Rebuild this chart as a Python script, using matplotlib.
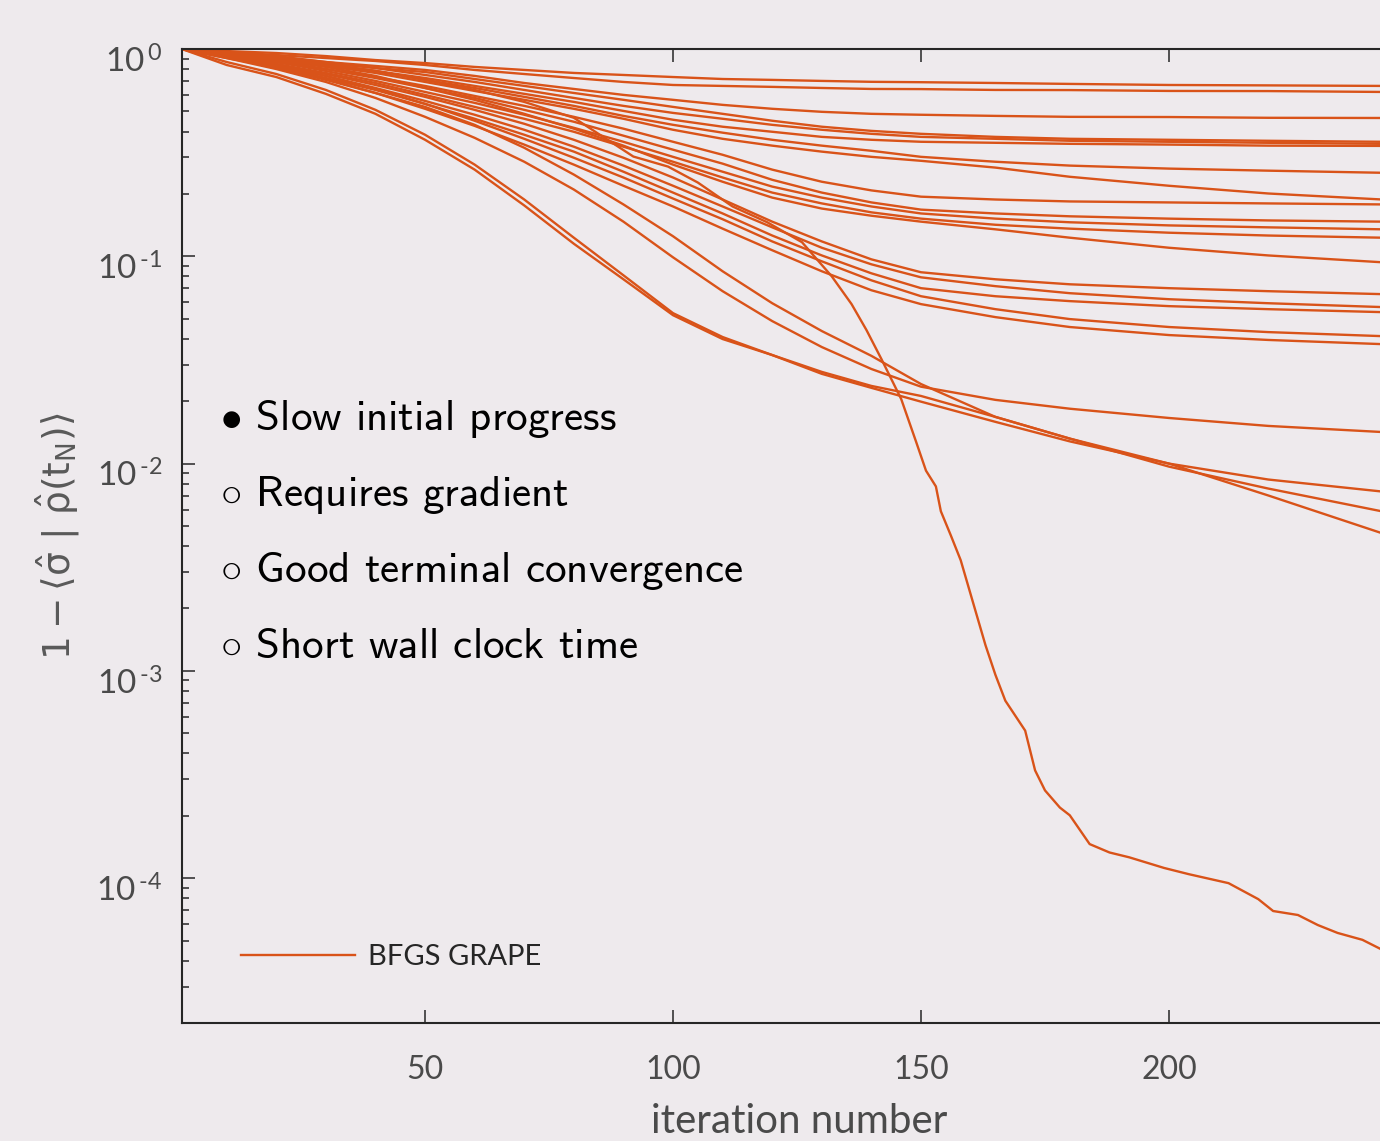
import matplotlib
matplotlib.use("Agg")
import matplotlib.pyplot as plt
from matplotlib.ticker import FuncFormatter
from matplotlib.transforms import ScaledTranslation
import math

# ---------------- data ----------------
iterations = [1, 10, 20, 30, 40, 50, 60, 70, 80, 90, 100, 110, 120, 130, 140,
              150, 165, 180, 200, 220, 243]

run_01 = [1.0, 0.978, 0.957, 0.925, 0.885, 0.856, 0.820, 0.793, 0.767, 0.750, 0.733,
          0.717, 0.710, 0.702, 0.695, 0.692, 0.686, 0.679, 0.671, 0.668, 0.664]
run_02 = [1.0, 0.967, 0.936, 0.905, 0.876, 0.838, 0.793, 0.758, 0.725, 0.694, 0.671,
          0.664, 0.657, 0.649, 0.642, 0.641, 0.635, 0.634, 0.628, 0.627, 0.621]
run_03 = [1.0, 0.957, 0.915, 0.866, 0.829, 0.793, 0.742, 0.686, 0.642, 0.601, 0.569,
          0.538, 0.515, 0.498, 0.487, 0.482, 0.476, 0.471, 0.470, 0.466, 0.465]
run_04 = [1.0, 0.957, 0.905, 0.856, 0.810, 0.775, 0.717, 0.664, 0.614, 0.569, 0.526,
          0.487, 0.451, 0.422, 0.403, 0.390, 0.377, 0.369, 0.365, 0.361, 0.357]
run_05 = [1.0, 0.967, 0.925, 0.866, 0.810, 0.750, 0.694, 0.635, 0.581, 0.532, 0.492,
          0.461, 0.431, 0.408, 0.390, 0.377, 0.369, 0.361, 0.357, 0.353, 0.349]
run_06 = [1.0, 0.946, 0.895, 0.838, 0.784, 0.725, 0.664, 0.608, 0.556, 0.503, 0.456,
          0.422, 0.399, 0.377, 0.365, 0.357, 0.353, 0.349, 0.346, 0.342, 0.341]
run_07 = [1.0, 0.957, 0.905, 0.847, 0.784, 0.710, 0.649, 0.588, 0.532, 0.476, 0.431,
          0.395, 0.365, 0.342, 0.323, 0.302, 0.286, 0.274, 0.265, 0.259, 0.253]
run_08 = [1.0, 0.946, 0.885, 0.829, 0.767, 0.694, 0.628, 0.569, 0.515, 0.461, 0.408,
          0.369, 0.342, 0.320, 0.302, 0.289, 0.268, 0.242, 0.219, 0.201, 0.188]
run_09 = [1.0, 0.936, 0.866, 0.801, 0.733, 0.664, 0.594, 0.532, 0.471, 0.413, 0.357,
          0.309, 0.262, 0.229, 0.208, 0.194, 0.188, 0.184, 0.182, 0.180, 0.178]
run_10 = [1.0, 0.946, 0.876, 0.801, 0.725, 0.649, 0.581, 0.509, 0.446, 0.382, 0.327,
          0.280, 0.234, 0.203, 0.182, 0.168, 0.161, 0.156, 0.152, 0.149, 0.147]
run_11 = [1.0, 0.936, 0.866, 0.784, 0.702, 0.621, 0.550, 0.482, 0.417, 0.357, 0.302,
          0.256, 0.217, 0.192, 0.174, 0.161, 0.152, 0.146, 0.141, 0.138, 0.135]
run_12 = [1.0, 0.925, 0.847, 0.767, 0.686, 0.601, 0.526, 0.461, 0.399, 0.338, 0.286,
          0.240, 0.203, 0.180, 0.163, 0.152, 0.142, 0.136, 0.130, 0.126, 0.123]
run_13 = [1.0, 0.946, 0.885, 0.820, 0.742, 0.649, 0.569, 0.487, 0.413, 0.342, 0.277,
          0.229, 0.192, 0.170, 0.157, 0.147, 0.135, 0.123, 0.110, 0.101, 0.0936]
run_14 = [1.0, 0.925, 0.847, 0.758, 0.671, 0.588, 0.509, 0.436, 0.365, 0.299, 0.240,
          0.188, 0.147, 0.118, 0.0967, 0.0838, 0.0775, 0.0733, 0.0702, 0.0679, 0.0657]
run_15 = [1.0, 0.915, 0.829, 0.742, 0.649, 0.562, 0.482, 0.408, 0.338, 0.274, 0.219,
          0.174, 0.138, 0.110, 0.0915, 0.0792, 0.0718, 0.0664, 0.0621, 0.0594, 0.0569]
run_16 = [1.0, 0.905, 0.820, 0.725, 0.635, 0.544, 0.461, 0.386, 0.320, 0.256, 0.203,
          0.161, 0.126, 0.101, 0.0828, 0.0702, 0.0642, 0.0608, 0.0575, 0.0556, 0.0538]
run_17 = [1.0, 0.925, 0.838, 0.742, 0.642, 0.544, 0.451, 0.369, 0.299, 0.240, 0.190,
          0.151, 0.118, 0.0946, 0.0766, 0.0642, 0.0556, 0.0498, 0.0456, 0.0431, 0.0412]
run_18 = [1.0, 0.915, 0.820, 0.717, 0.614, 0.515, 0.426, 0.346, 0.277, 0.219, 0.174,
          0.136, 0.107, 0.0847, 0.0686, 0.0588, 0.0509, 0.0456, 0.0417, 0.0395, 0.0377]
run_19 = [1.0, 0.905, 0.801, 0.694, 0.581, 0.471, 0.373, 0.286, 0.210, 0.147, 0.0989,
          0.0679, 0.0487, 0.0365, 0.0286, 0.0235, 0.0203, 0.0184, 0.0166, 0.0152, 0.0142]
run_20 = [1.0, 0.838, 0.733, 0.608, 0.487, 0.365, 0.262, 0.176, 0.115, 0.0775, 0.0520,
          0.0399, 0.0334, 0.0271, 0.0232, 0.0199, 0.0159, 0.0128, 0.0100, 0.00838, 0.00733]
run_21 = [1.0, 0.866, 0.758, 0.635, 0.509, 0.386, 0.277, 0.188, 0.123, 0.0810, 0.0532,
          0.0408, 0.0334, 0.0277, 0.0237, 0.0212, 0.0168, 0.0132, 0.00967, 0.00758, 0.00588]
run_22 = [1.0, 0.915, 0.810, 0.710, 0.614, 0.526, 0.431, 0.334, 0.248, 0.178, 0.125,
          0.0847, 0.0594, 0.0436, 0.0331, 0.0242, 0.0168, 0.0132, 0.0100, 0.00702, 0.00461]

# the run that converges to high fidelity has its own, finer iteration grid
fast_iterations = [1, 10, 20, 30, 40, 50, 60, 70, 80, 92, 99, 105, 112, 119, 126, 132,
                   136, 139, 142, 146, 149, 151, 153, 154, 156, 158, 161, 163, 165, 167,
                   171, 173, 175, 178, 180, 184, 188, 192, 199, 204, 212, 218, 221, 226,
                   230, 234, 239, 243]
fast_run = [1.0, 0.957, 0.905, 0.847, 0.784, 0.710, 0.635, 0.556, 0.466, 0.303, 0.271,
            0.227, 0.174, 0.146, 0.117, 0.0801, 0.0588, 0.0441, 0.0320, 0.0205, 0.01276,
            0.00925, 0.00776, 0.00589, 0.00451, 0.00342, 0.00194, 0.00133, 0.000957,
            0.000718, 0.000515, 0.000331, 0.000265, 0.000219, 0.000201, 0.000146,
            0.000133, 0.000126, 0.000112, 0.0001045, 9.46e-5, 7.92e-5, 6.94e-5, 6.64e-5,
            5.94e-5, 5.44e-5, 5.04e-5, 4.51e-5]

runs = [run_01, run_02, run_03, run_04, run_05, run_06, run_07, run_08, run_09, run_10,
        run_11, run_12, run_13, run_14, run_15, run_16, run_17, run_18, run_19, run_20,
        run_21, run_22]

legend_label = "BFGS GRAPE"
bullet_lines = [r"$\bullet$ Slow initial progress",
                r"$\circ$ Requires gradient",
                r"$\circ$ Good terminal convergence",
                r"$\circ$ Short wall clock time"]
x_label = "iteration number"
y_label = r"$\mathrm{1 - \langle\hat{\sigma}\ |\ \hat{\rho}(t_N)\rangle}$"
x_ticks = [50, 100, 150, 200]
y_ticks = [1e-4, 1e-3, 1e-2, 1e-1, 1]

# ---------------- style ----------------
BG = "#eeeaed"
LINE = "#d95319"
DARK = "#262626"
TICKC = "#4a4a4a"
plt.rcParams["font.family"] = ["Lato", "DejaVu Sans"]
plt.rcParams["mathtext.fontset"] = "dejavusans"


def decade_label(v, pos):
    e = round(math.log10(v))
    exp = ("\u2010%d" % -e) if e < 0 else "%d" % e
    return r"$\mathregular{10^{\,%s}}$" % exp


fig = plt.figure(figsize=(13.8, 11.41), dpi=100, facecolor=BG)
ax = fig.add_axes([0.1319, 0.1034, 0.8949, 0.8536], facecolor=BG)

for i, r in enumerate(runs):
    ax.plot(iterations, r, color=LINE, lw=1.7,
            label=legend_label if i == 0 else "_nolegend_")
ax.plot(fast_iterations, fast_run, color=LINE, lw=1.7, label="_nolegend_")

ax.set_yscale("log")
ax.set_xlim(1, 250)
ax.set_ylim(2e-5, 1)
ax.set_xticks(x_ticks)
ax.set_yticks(y_ticks)
ax.yaxis.set_major_formatter(FuncFormatter(decade_label))

for s in ax.spines.values():
    s.set_color(DARK)
    s.set_linewidth(1.5)

ax.tick_params(axis="x", which="major", direction="in", top=True, bottom=True,
               length=9.4, width=1.1, color=DARK, labelsize=23, pad=23,
               labelcolor=TICKC)
ax.tick_params(axis="y", which="major", direction="in", left=True, right=True,
               length=9.4, width=1.1, color=DARK, labelsize=24, pad=14,
               labelcolor=TICKC)
ax.tick_params(axis="y", which="minor", direction="in", left=True, right=True,
               length=5.2, width=1.1, color=DARK)

# shift y tick labels slightly down, as in the reference
offset = ScaledTranslation(0, -0.10, fig.dpi_scale_trans)
for lab in ax.get_yticklabels():
    lab.set_transform(lab.get_transform() + offset)

ax.set_xlabel(x_label, fontsize=29, color=TICKC, labelpad=13)
ax.set_ylabel(y_label, fontsize=27, color="#595959", labelpad=10)

# bullet list
ys = [0.6088, 0.5308, 0.4528, 0.3747]
for y, t in zip(ys, bullet_lines):
    ax.text(0.031, y, t, transform=ax.transAxes, fontsize=31, color="black",
            family=["cmss10", "DejaVu Sans"], math_fontfamily="cm",
            ha="left", va="baseline")

leg = ax.legend(loc="center left", bbox_to_anchor=(0.0478, 0.0678), frameon=False,
                borderpad=0, borderaxespad=0, handlelength=3.9, handletextpad=0.45,
                fontsize=21)
for t in leg.get_texts():
    t.set_color(DARK)

fig.savefig("out.png", dpi=100, facecolor=BG)
